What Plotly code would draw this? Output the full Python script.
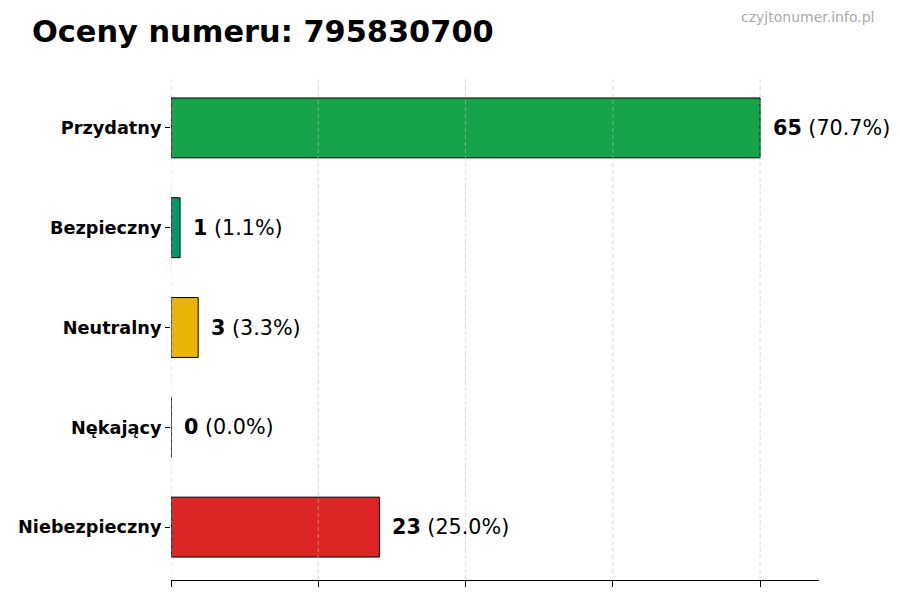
import plotly.graph_objects as go

categories = ["Przydatny", "Bezpieczny", "Neutralny", "Nękający", "Niebezpieczny"]
values = [65, 1, 3, 0, 23]
colors = ["#16a34a", "#059669", "#eab308", "#7f7f7f", "#dc2626"]
title_text = "Oceny numeru: 795830700"
watermark = "czyjtonumer.info.pl"

total = sum(values)
vmax = max(values)
xticks = [vmax * i / 4 for i in range(5)]

# page body has an 8px margin; size the figure so it fills the 900x600 window
OFF = 8
W, H = 900 - OFF, 600 - OFF
ML, MR, MT, MB = 171 - OFF, 81, 76 - OFF, 20

fig = go.Figure()
fig.add_trace(go.Bar(
    y=categories, x=values, orientation="h", width=0.6,
    marker=dict(color=colors, line=dict(color="#000000", width=1)),
    hoverinfo="skip",
))

for c, v in zip(categories, values):
    pct = 100 * v / total
    fig.add_annotation(
        x=v, y=c, xref="x", yref="y", xanchor="left", yanchor="middle",
        xshift=11, showarrow=False,
        text=f"<b>{v}</b> ({pct:.1f}%)",
        font=dict(family="DejaVu Sans", size=20.7, color="#000000"),
    )

fig.add_annotation(
    x=(876 - OFF - ML) / (W - ML - MR), y=(H - MB - (17 - OFF)) / (H - MT - MB),
    xref="paper", yref="paper", showarrow=False,
    text=watermark, xanchor="right", yanchor="middle",
    font=dict(family="DejaVu Sans", size=14, color="#aaaaaa"),
)

for t in xticks:
    fig.add_shape(type="line", x0=t, x1=t, y0=0, y1=1, xref="x", yref="paper",
                  line=dict(color="rgba(190,190,190,0.6)", width=1, dash="4px,3px"),
                  layer="above")

fig.update_layout(
    width=W, height=H,
    margin=dict(l=ML, r=MR, t=MT, b=MB, autoexpand=False),
    paper_bgcolor="white", plot_bgcolor="white",
    showlegend=False,
    font=dict(family="DejaVu Sans", color="#000000"),
    title=dict(text=f"<b>{title_text}</b>", x=(32 - OFF) / W, xanchor="left",
               y=1 - (31 - OFF) / H, yanchor="middle",
               font=dict(family="DejaVu Sans", size=30.4, color="#000000")),
    xaxis=dict(
        range=[0, vmax * 1.1], tickvals=xticks, showticklabels=False,
        ticks="outside", ticklen=6, tickcolor="#000000",
        showgrid=False,
        showline=True, linecolor="#000000", linewidth=1, zeroline=False,
    ),
    yaxis=dict(
        categoryorder="array", categoryarray=categories,
        range=[4.53, -0.52],
        tickvals=categories, ticktext=[f"<b>{c}</b>" for c in categories],
        ticks="outside", ticklen=5, tickcolor="#000000",
        tickfont=dict(family="DejaVu Sans", size=17.7, color="#000000"),
        showline=False, showgrid=False, zeroline=False,
    ),
)

fig.write_html("out.html")
